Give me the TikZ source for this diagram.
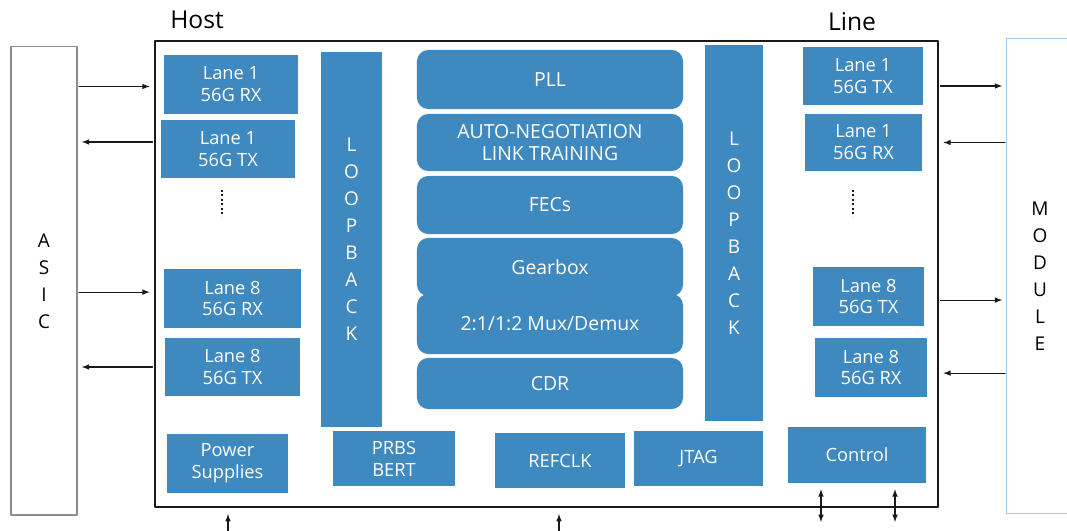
\documentclass[tikz,border=0pt]{standalone}
\usepackage{fontspec}
\setmainfont{Open Sans}
\begin{document}
\begin{tikzpicture}[x=0.025cm,y=-0.025cm,>=latex,line cap=round,line join=round]
\colorlet{blk}{black!90}
\definecolor{chipc}{RGB}{63,137,193}
\colorlet{asicc}{black!45}
\definecolor{modc}{RGB}{165,202,232}

\tikzset{
blockbox/.style={fill=chipc, text=white, inner sep=0pt, align=center, font=\fontsize{13}{15.6}\selectfont},
stagebox/.style={blockbox, rounded corners=8pt, minimum width=6.65cm, font=\fontsize{13.8}{15.6}\selectfont},
loopbox/.style={blockbox, font=\fontsize{13.5}{19.2}\selectfont},
sidebox/.style={draw=#1, line width=0.8pt, inner sep=0pt, align=center, minimum width=1.65cm, font=\fontsize{13.5}{19.2}\selectfont},
link/.style={blk, line width=0.8pt, ->, shorten >=3pt, shorten <=1pt},
hdr/.style={font=\fontsize{17.5}{20}\selectfont}
}
\useasboundingbox (0,0) rectangle (1067,531);

% outer blocks
\node[draw=blk, line width=1.4pt, minimum width=19.575cm, minimum height=11.65cm] (chip) at (546.5,274) {};
\node[sidebox=asicc, minimum height=11.7cm] (asic) at (44,281) {A\\S\\I\\C};
\node[sidebox=none, minimum height=11.85cm] (module) at (1040,276) {M\\O\\D\\U\\L\\E};
\draw[modc, line width=0.8pt, line cap=butt] (module.north east) -- (module.north west) -- (module.south west) -- (module.south east);
\node[hdr] (host) at (197,20) {Host};
\node[hdr] (line) at (852,22) {Line};

% host side lanes
\node[blockbox, minimum width=3.35cm, minimum height=1.475cm] (l1rx) at (231,84.5) {Lane 1\\56G RX};
\node[blockbox, minimum width=3.35cm, minimum height=1.45cm] (l1tx) at (228,149) {Lane 1\\56G TX};
\node[blockbox, minimum width=3.425cm, minimum height=1.475cm] (l8rx) at (232.5,298.5) {Lane 8\\56G RX};
\node[blockbox, minimum width=3.375cm, minimum height=1.45cm] (l8tx) at (232.5,367) {Lane 8\\56G TX};
\coordinate (hd1) at (222,190);
\coordinate (hd2) at (222,217);
\draw[blk, dotted, line width=1.2pt, line cap=butt] (hd1) -- (hd2);

% loopbacks
\node[loopbox, minimum width=1.525cm, minimum height=9.375cm] (loopl) at (351.5,239.5) {L\\O\\O\\P\\B\\A\\C\\K};
\node[loopbox, minimum width=1.45cm, minimum height=9.4cm] (loopr) at (734,233) {L\\O\\O\\P\\B\\A\\C\\K};

% datapath stages
\node[stagebox, minimum height=1.475cm] (pll) at (550,79.5) {PLL};
\node[stagebox, minimum height=1.425cm] (aneg) at (550,142.5) {AUTO-NEGOTIATION\\LINK TRAINING};
\node[stagebox, minimum height=1.45cm] (fec) at (550,205) {FECs};
\node[stagebox, minimum height=1.45cm] (gear) at (550,267) {Gearbox};
\node[stagebox, minimum height=1.5cm] (mux) at (550,324) {2:1/1:2 Mux/Demux};
\node[stagebox, minimum height=1.275cm] (cdr) at (550,383.5) {CDR};

% line side lanes
\node[blockbox, minimum width=3.0cm, minimum height=1.45cm] (r1tx) at (863,76) {Lane 1\\56G TX};
\node[blockbox, minimum width=2.925cm, minimum height=1.425cm] (r1rx) at (863.5,142.5) {Lane 1\\56G RX};
\node[blockbox, minimum width=2.775cm, minimum height=1.475cm] (r8tx) at (868.5,296.5) {Lane 8\\56G TX};
\node[blockbox, minimum width=2.8cm, minimum height=1.475cm] (r8rx) at (871,367.5) {Lane 8\\56G RX};
\coordinate (ld1) at (853,190);
\coordinate (ld2) at (853,217);
\draw[blk, dotted, line width=1.2pt, line cap=butt] (ld1) -- (ld2);

% bottom row
\node[blockbox, minimum width=3.025cm, minimum height=1.475cm] (pwr) at (227.5,463.5) {Power\\Supplies};
\node[blockbox, minimum width=3.05cm, minimum height=1.375cm] (prbs) at (394,458.5) {PRBS\\BERT};
\node[blockbox, minimum width=3.25cm, minimum height=1.375cm] (refclk) at (560,460.5) {REFCLK};
\node[blockbox, minimum width=3.225cm, minimum height=1.375cm] (jtag) at (698.5,458.5) {JTAG};
\node[blockbox, minimum width=3.45cm, minimum height=1.4cm] (ctrl) at (857,455) {Control};

% host links
\draw[link] ([yshift=-0.05cm]asic.east |- l1rx) -- ([yshift=-0.05cm]chip.west |- l1rx);
\draw[link] ([yshift=0.175cm]chip.west |- l1tx) -- ([yshift=0.175cm]asic.east |- l1tx);
\draw[link] ([yshift=0.16cm]asic.east |- l8rx) -- ([yshift=0.16cm]chip.west |- l8rx);
\draw[link] (chip.west |- l8tx) -- (asic.east |- l8tx);

% line links
\draw[link] ([yshift=-0.25cm]chip.east |- r1tx) -- ([yshift=-0.25cm]module.west |- r1tx);
\draw[link] (module.west |- r1rx) -- (chip.east |- r1rx);
\draw[link] ([yshift=-0.09cm]chip.east |- r8tx) -- ([yshift=-0.09cm]module.west |- r8tx);
\draw[link] ([yshift=-0.14cm]module.west |- r8rx) -- ([yshift=-0.14cm]chip.east |- r8rx);

% supply, clock and control pins
\coordinate (pwrin) at (228,540);
\coordinate (clkin) at (559,540);
\draw[link, shorten >=0.15cm] (pwrin) -- (chip.south -| pwrin);
\draw[link, shorten >=0.15cm] (clkin) -- (chip.south -| clkin);
\coordinate (ctl1) at (821,522);
\coordinate (ctl2) at (895,522);
\draw[link, <->, shorten >=0.15cm, shorten <=0pt] (ctl1) -- (ctrl.south -| ctl1);
\draw[link, <->, shorten >=0.15cm, shorten <=0pt] (ctl2) -- (ctrl.south -| ctl2);
\end{tikzpicture}
\end{document}
